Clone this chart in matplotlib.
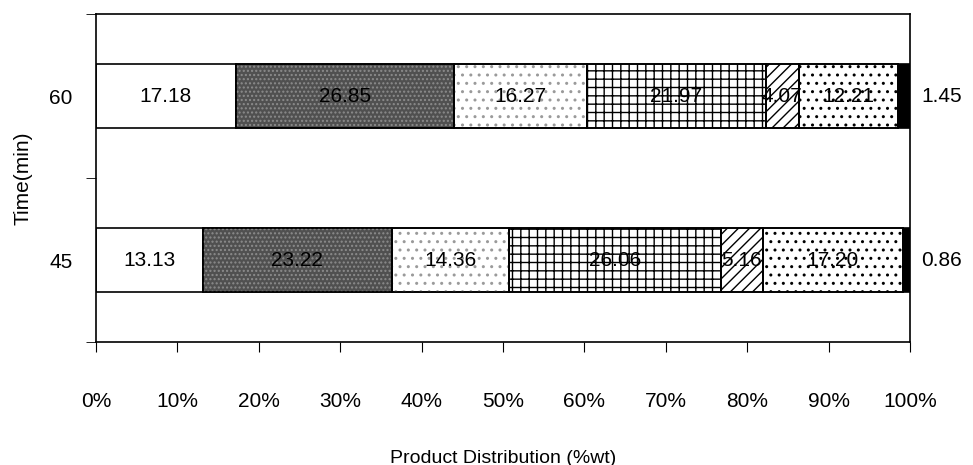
import numpy as np
import matplotlib
matplotlib.use("Agg")
import matplotlib.pyplot as plt
import matplotlib.ticker as ticker

plt.rcParams['font.family'] = ['Liberation Sans', 'DejaVu Sans']

times = ["45", "60"]
# product fractions (%wt), left to right
vals_45 = [13.13, 23.22, 14.36, 26.06, 5.16, 17.20, 0.86]
vals_60 = [17.18, 26.85, 16.27, 21.97, 4.07, 12.21, 1.45]
xticks = [0, 10, 20, 30, 40, 50, 60, 70, 80, 90, 100]

faces = ['white', '#505050', 'white', 'white', 'white', 'white', 'black']
hatches = [None, '....', '..', '++', '///', '..', None]
hcols = ['black', '#8c8c8c', '#9a9a9a', 'black', 'black', 'black', 'black']

fs = 15

fig = plt.figure(figsize=(9.73, 4.65), dpi=100)
ax = fig.add_axes([96/973, 1-342/465, (910-96)/973, (342-14)/465])

data = np.array([vals_45, vals_60])
ypos = np.arange(len(times))
h = 0.39
left = np.zeros(len(times))
for k in range(data.shape[1]):
    w = data[:, k]
    ax.barh(ypos, w, left=left, height=h, color=faces[k], edgecolor='black', lw=1.2, zorder=2)
    if hatches[k]:
        ax.barh(ypos, w, left=left, height=h, color='none', edgecolor=hcols[k],
                hatch=hatches[k], lw=0, zorder=3)
        ax.barh(ypos, w, left=left, height=h, color='none', edgecolor='black', lw=1.2, zorder=4)
    for i in range(len(times)):
        if k == data.shape[1] - 1:
            ax.text(101.4, ypos[i], "%.2f" % w[i], ha='left', va='center', fontsize=fs, clip_on=False)
        else:
            ax.text(left[i] + w[i]/2, ypos[i], "%.2f" % w[i], ha='center', va='center',
                    fontsize=fs, zorder=5)
    left = left + w

ax.set_xlim(0, 100)
ax.set_ylim(-0.5, 1.5)
ax.set_xticks(xticks)
ax.xaxis.set_major_formatter(ticker.FuncFormatter(lambda v, p: "%d%%" % v))
ax.tick_params(axis='x', direction='out', length=7, pad=29, labelsize=fs)
ax.set_yticks(ypos)
ax.set_yticklabels(times)
ax.set_yticks([-0.5, 0.5, 1.5], minor=True)
ax.tick_params(axis='y', which='major', length=0, pad=17, labelsize=fs)
ax.tick_params(axis='y', which='minor', direction='out', length=7)
for s in ax.spines.values():
    s.set_linewidth(1.2)

ax.set_xlabel("Product Distribution (%wt)", fontsize=14, labelpad=28)
ax.set_ylabel("Time(min)", fontsize=15, labelpad=12)

plt.savefig("out.png", dpi=100)
